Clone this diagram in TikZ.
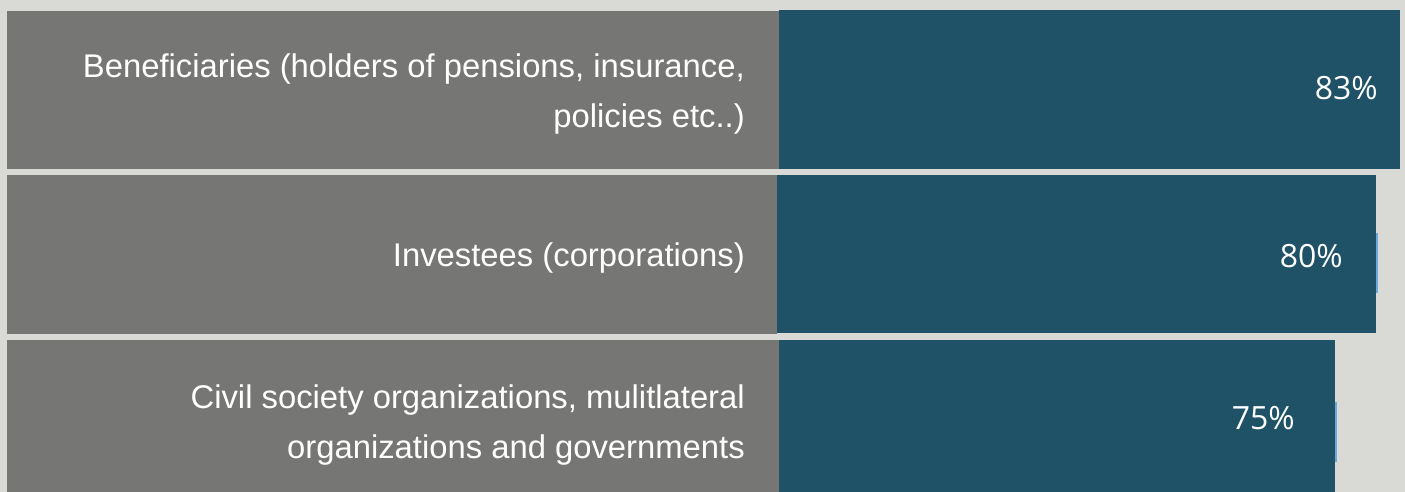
\documentclass[tikz,border=0pt]{standalone}
\usepackage{fontspec}
\setmainfont{Liberation Sans}
\newfontfamily\pctfont{Open Sans}
\definecolor{bgc}{HTML}{D9D9D5}
\definecolor{grayc}{HTML}{767674}
\definecolor{bluec}{HTML}{1F5267}
\definecolor{tickc}{HTML}{6FA8DC}
\begin{document}
\begin{tikzpicture}[x=1pt,y=-1pt,
  bar/.style={anchor=north west,inner sep=0pt,outer sep=0pt,draw=none},
  lab/.style={anchor=base east,inner sep=0pt,text=white,font=\fontsize{32.8}{38}\selectfont},
  pct/.style={anchor=base east,inner sep=0pt,text=white,font=\pctfont\fontsize{32}{38}\selectfont},
  tick/.style={draw=tickc,line width=1.6pt}]
\fill[bgc] (0,0) rectangle (1405,492);
\useasboundingbox (0,0) rectangle (1405,492);
% row 1
\node[bar,fill=grayc,minimum width=772,minimum height=158] (g1) at (7,11) {};
\node[bar,fill=bluec,minimum width=621,minimum height=159] (b1) at (779,10) {};
% row 2
\node[bar,fill=grayc,minimum width=770,minimum height=159] (g2) at (7,175) {};
\node[bar,fill=bluec,minimum width=599,minimum height=158] (b2) at (777,175) {};
% row 3
\node[bar,fill=grayc,minimum width=772,minimum height=152] (g3) at (7,340) {};
\node[bar,fill=bluec,minimum width=556,minimum height=152] (b3) at (779,340) {};
% labels
\node[lab] (l1a) at (745,78) {Beneficiaries (holders of pensions, insurance,};
\node[lab] (l1b) at (745,128) {policies etc..)};
\node[lab] (l2) at (745,266) {Investees (corporations)};
\node[lab] (l3a) at (745,408) {Civil society organizations, mulitlateral};
\node[lab] (l3b) at (745,458) {organizations and governments};
% percentages
\node[pct] (p1) at (1378,100) {83\%};
\node[pct] (p2) at (1343,267) {80\%};
\node[pct] (p3) at (1295,429) {75\%};
% ticks
\coordinate (t2a) at (1377,233); \coordinate (t2b) at (1377,293);
\coordinate (t3a) at (1336,402); \coordinate (t3b) at (1336,462);
\draw[tick] (t2a) -- (t2b);
\draw[tick] (t3a) -- (t3b);
\end{tikzpicture}
\end{document}
